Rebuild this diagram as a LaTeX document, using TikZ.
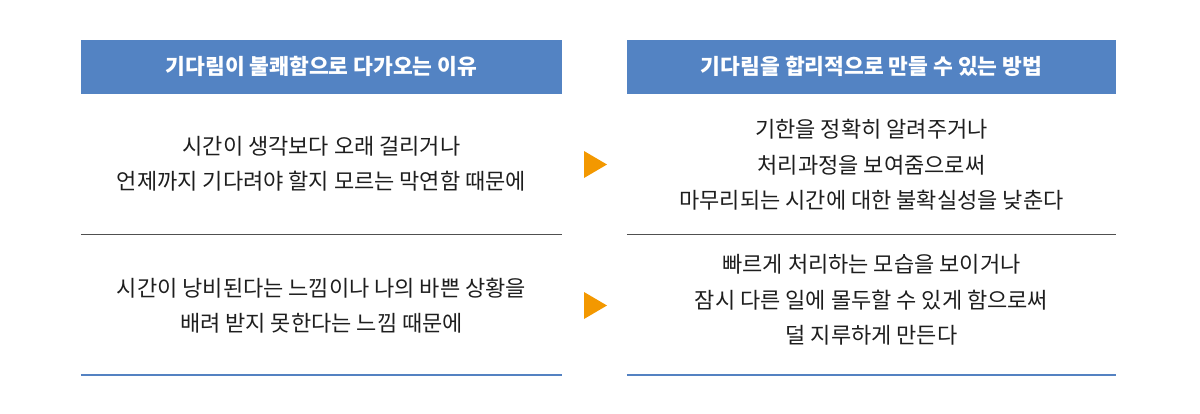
\documentclass[tikz,border=0pt]{standalone}
\usepackage{fontspec}
\setmainfont{Noto Sans CJK KR}
\definecolor{headblue}{HTML}{5383C3}
\definecolor{markorange}{HTML}{F39800}
\definecolor{rulegray}{HTML}{505050}
\definecolor{ruleblue}{HTML}{5482C2}
\definecolor{bodytext}{HTML}{1E1E1E}

\begin{document}
\begin{tikzpicture}[x=1pt,y=-1pt,
    headbox/.style={fill=headblue,text=white,inner sep=0pt,minimum height=54.5pt,font=\fontsize{21.5}{24}\selectfont\bfseries},
    bodytextbox/.style={align=center,text=bodytext,inner sep=0pt,font=\fontsize{22}{35.5}\selectfont},
    markarrow/.style={fill=markorange}]
            \useasboundingbox (0,0) rectangle (1200,413);
            \node[headbox,minimum width=481pt] (headL) at (321.5,66.75) {기다림이 불쾌함으로 다가오는 이유};
            \node[headbox,minimum width=489pt] (headR) at (871.5,66.75) {기다림을 합리적으로 만들 수 있는 방법};
            \node[bodytextbox] (causeA) at (321.5,164) {시간이 생각보다 오래 걸리거나\\언제까지 기다려야 할지 모르는 막연함 때문에};
            \node[bodytextbox] (fixA) at (871.5,165) {기한을 정확히 알려주거나\\처리과정을 보여줌으로써\\마무리되는 시간에 대한 불확실성을 낮춘다};
            \node[bodytextbox] (causeB) at (321.5,305.5) {시간이 낭비된다는 느낌이나 나의 바쁜 상황을\\배려 받지 못한다는 느낌 때문에};
            \node[bodytextbox] (fixB) at (871.5,300) {빠르게 처리하는 모습을 보이거나\\잠시 다른 일에 몰두할 수 있게 함으로써\\덜 지루하게 만든다};
            \fill[markarrow] (584,151)--(607,164.5)--(584,178)--cycle;
            \fill[markarrow] (584,292)--(607,305.5)--(584,319)--cycle;
            \draw[rulegray,line width=1pt] (headL.west|-0,234)--(headL.east|-0,234);
            \draw[rulegray,line width=1pt] (headR.west|-0,234)--(headR.east|-0,234);
            \draw[ruleblue,line width=1.5pt] (headL.west|-0,375)--(headL.east|-0,375);
            \draw[ruleblue,line width=1.5pt] (headR.west|-0,375)--(headR.east|-0,375);
        \end{tikzpicture}
\end{document}
